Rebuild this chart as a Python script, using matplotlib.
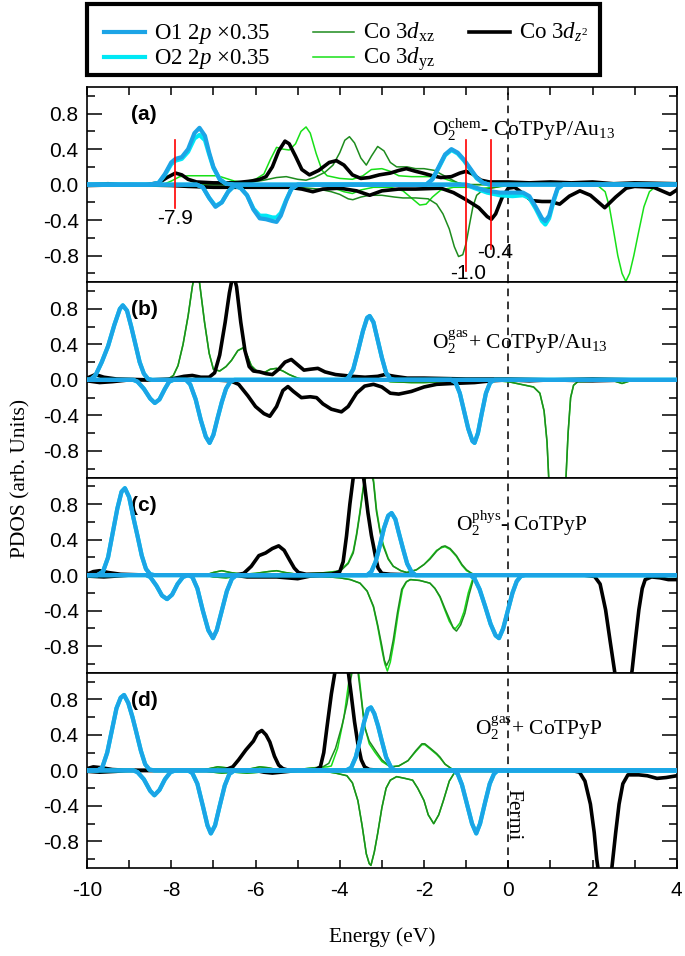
import numpy as np
import matplotlib.pyplot as plt
from matplotlib.lines import Line2D
from matplotlib.patches import Rectangle
from matplotlib.ticker import MultipleLocator, FixedLocator

plt.rcParams['font.family'] = ['Liberation Serif', 'DejaVu Serif']
plt.rcParams['mathtext.fontset'] = 'custom'
plt.rcParams['mathtext.rm'] = 'Liberation Serif'
plt.rcParams['mathtext.it'] = 'Liberation Serif:italic'
plt.rcParams['mathtext.bf'] = 'Liberation Serif:bold'

# ---- data: (energy eV, PDOS) points, spin up (+) / spin down (-)

# (a) O2chem - CoTPyP/Au13
a_o1_up = [(-10, 0), (-8.5, 0), (-8.3, 0.02), (-8.15, 0.12), (-8.0, 0.25), (-7.9, 0.29), (-7.75, 0.31),
           (-7.6, 0.40), (-7.45, 0.58), (-7.33, 0.64), (-7.2, 0.55), (-7.1, 0.36), (-7.0, 0.2), (-6.85, 0.06),
           (-6.7, 0.01), (-6.5, 0), (-1.95, 0), (-1.8, 0.06), (-1.65, 0.2), (-1.5, 0.34), (-1.35, 0.40),
           (-1.2, 0.36), (-1.05, 0.28), (-0.9, 0.18), (-0.75, 0.08), (-0.6, 0.02), (-0.45, 0), (4, 0)]
a_o1_dn = [(-10, 0), (-7.4, 0), (-7.25, -0.03), (-7.1, -0.15), (-6.95, -0.25), (-6.8, -0.2), (-6.65, -0.08),
           (-6.5, -0.01), (-6.35, -0.04), (-6.2, -0.12), (-6.05, -0.28), (-5.9, -0.38), (-5.75, -0.39),
           (-5.6, -0.41), (-5.5, -0.42), (-5.4, -0.35), (-5.27, -0.18), (-5.15, -0.05), (-5.0, 0), (-1.0, 0),
           (-0.8, -0.03), (-0.5, -0.07), (-0.2, -0.09), (0.1, -0.09), (0.35, -0.09), (0.5, -0.13), (0.65, -0.25),
           (0.8, -0.38), (0.88, -0.41), (0.97, -0.35), (1.07, -0.18), (1.17, -0.04), (1.3, 0), (4, 0)]
a_o2_up = [(-10, 0), (-8.5, 0), (-8.3, 0.02), (-8.15, 0.11), (-8.0, 0.23), (-7.9, 0.27), (-7.75, 0.29),
           (-7.6, 0.37), (-7.45, 0.52), (-7.33, 0.56), (-7.2, 0.50), (-7.1, 0.34), (-7.0, 0.19), (-6.85, 0.06),
           (-6.7, 0.01), (-6.5, 0), (-1.95, 0), (-1.8, 0.06), (-1.65, 0.19), (-1.5, 0.33), (-1.35, 0.39),
           (-1.2, 0.35), (-1.05, 0.27), (-0.9, 0.17), (-0.75, 0.07), (-0.6, 0.02), (-0.45, 0), (4, 0)]
a_o2_dn = [(-10, 0), (-7.4, 0), (-7.25, -0.03), (-7.1, -0.15), (-6.95, -0.24), (-6.8, -0.2), (-6.65, -0.08),
           (-6.5, -0.01), (-6.35, -0.04), (-6.2, -0.12), (-6.05, -0.27), (-5.9, -0.35), (-5.75, -0.35),
           (-5.6, -0.37), (-5.5, -0.37), (-5.4, -0.32), (-5.27, -0.17), (-5.15, -0.05), (-5.0, 0), (-1.0, 0),
           (-0.8, -0.04), (-0.5, -0.09), (-0.2, -0.12), (0.1, -0.13), (0.35, -0.12), (0.5, -0.15), (0.65, -0.27),
           (0.8, -0.41), (0.88, -0.45), (0.97, -0.38), (1.07, -0.2), (1.17, -0.05), (1.3, 0), (4, 0)]
a_z2_up = [(-10, 0), (-9.5, 0.01), (-9.2, 0), (-8.6, 0.0), (-8.3, 0.02), (-8.1, 0.08), (-7.9, 0.13),
           (-7.75, 0.11), (-7.6, 0.06), (-7.4, 0.03), (-7.0, 0.02), (-6.5, 0.02), (-6.1, 0.04), (-5.9, 0.06),
           (-5.75, 0.09), (-5.6, 0.2), (-5.45, 0.38), (-5.3, 0.49), (-5.2, 0.46), (-5.05, 0.32), (-4.9, 0.17),
           (-4.72, 0.11), (-4.5, 0.16), (-4.25, 0.25), (-4.08, 0.27), (-3.9, 0.22), (-3.7, 0.11), (-3.5, 0.07),
           (-3.3, 0.08), (-3.06, 0.11), (-2.8, 0.13), (-2.6, 0.16), (-2.42, 0.18), (-2.2, 0.15), (-2.03, 0.13),
           (-1.8, 0.10), (-1.6, 0.08), (-1.35, 0.09), (-1.15, 0.13), (-1.0, 0.15), (-0.85, 0.12), (-0.65, 0.05),
           (-0.45, 0.03), (0, 0.03), (0.5, 0.02), (1.0, 0.03), (1.5, 0.02), (2.0, 0.03), (2.5, 0.01), (3, 0.02),
           (4, 0.01)]
a_z2_dn = [(-10, -0.01), (-9.0, 0.0), (-8.0, -0.01), (-7.6, -0.02), (-7.0, -0.03), (-6.4, -0.03), (-5.8, -0.03),
           (-5.2, -0.03), (-4.9, -0.05), (-4.64, -0.08), (-4.4, -0.05), (-4.0, -0.04), (-3.6, -0.07),
           (-3.29, -0.12), (-3.0, -0.07), (-2.6, -0.05), (-2.2, -0.05), (-1.6, -0.04), (-1.3, -0.09),
           (-1.0, -0.17), (-0.7, -0.26), (-0.5, -0.36), (-0.4, -0.39), (-0.3, -0.33), (-0.15, -0.15),
           (0.0, -0.04), (0.15, -0.03), (0.35, -0.1), (0.55, -0.18), (0.8, -0.19), (1.0, -0.19), (1.22, -0.22),
           (1.45, -0.13), (1.7, -0.07), (1.95, -0.12), (2.29, -0.26), (2.55, -0.14), (2.8, -0.04), (3.0, -0.02),
           (3.45, -0.03), (3.84, -0.11), (4.0, -0.06)]
a_xz_up = [(-10, 0), (-6.5, 0), (-6.2, 0.02), (-5.8, 0.05), (-5.5, 0.08), (-5.27, 0.09), (-5.0, 0.06),
           (-4.8, 0.05), (-4.6, 0.08), (-4.35, 0.14), (-4.16, 0.22), (-4.0, 0.36), (-3.88, 0.5), (-3.77, 0.54),
           (-3.65, 0.47), (-3.5, 0.3), (-3.37, 0.22), (-3.25, 0.32), (-3.1, 0.43), (-2.95, 0.38), (-2.8, 0.25),
           (-2.65, 0.2), (-2.4, 0.2), (-2.2, 0.18), (-2.0, 0.18), (-1.75, 0.16), (-1.6, 0.12), (-1.4, 0.07),
           (-1.2, 0.02), (-1.0, 0), (4, 0)]
a_xz_dn = [(-10, 0), (-6.2, 0), (-5.5, -0.02), (-5.0, -0.03), (-4.5, -0.05), (-4.2, -0.08), (-4.0, -0.11),
           (-3.8, -0.16), (-3.69, -0.17), (-3.5, -0.14), (-3.3, -0.12), (-3.0, -0.12), (-2.7, -0.14),
           (-2.5, -0.15), (-2.2, -0.15), (-1.9, -0.16), (-1.7, -0.22), (-1.55, -0.33), (-1.4, -0.5),
           (-1.28, -0.7), (-1.18, -0.81), (-1.08, -0.79), (-1.0, -0.66), (-0.92, -0.45), (-0.84, -0.25),
           (-0.75, -0.12), (-0.6, -0.06), (-0.4, -0.04), (-0.2, -0.02), (0, 0), (4, 0)]
a_yz_up = [(-10, 0), (-8.2, 0), (-8.0, 0.04), (-7.8, 0.09), (-7.6, 0.1), (-7.2, 0.1), (-6.9, 0.1), (-6.7, 0.07),
           (-6.5, 0.04), (-6.3, 0.03), (-6.0, 0.06), (-5.8, 0.12), (-5.65, 0.28), (-5.5, 0.42), (-5.35, 0.4),
           (-5.2, 0.39), (-5.05, 0.46), (-4.92, 0.6), (-4.8, 0.65), (-4.7, 0.58), (-4.56, 0.35), (-4.42, 0.16),
           (-4.3, 0.1), (-4.0, 0.07), (-3.7, 0.06), (-3.45, 0.1), (-3.25, 0.17), (-3.0, 0.18), (-2.8, 0.15),
           (-2.6, 0.1), (-2.3, 0.09), (-1.9, 0.09), (-1.6, 0.08), (-1.35, 0.04), (-1.1, 0.01), (-0.9, 0), (4, 0)]
a_yz_dn = [(-10, 0), (-4.5, 0), (-4.2, -0.03), (-3.9, -0.08), (-3.7, -0.1), (-3.5, -0.06), (-3.2, -0.03),
           (-2.8, -0.03), (-2.5, -0.07), (-2.3, -0.15), (-2.1, -0.23), (-1.95, -0.22), (-1.8, -0.14),
           (-1.6, -0.06), (-1.3, -0.03), (-1.0, -0.03), (-0.6, -0.04), (-0.3, -0.03), (0, -0.01), (1.8, 0),
           (2.15, -0.02), (2.3, -0.08), (2.4, -0.25), (2.5, -0.52), (2.6, -0.8), (2.7, -1.0), (2.79, -1.09),
           (2.88, -1.0), (2.98, -0.8), (3.1, -0.52), (3.22, -0.25), (3.35, -0.08), (3.5, -0.02), (3.7, 0), (4, 0)]

# (b) O2gas + CoTPyP/Au13
b_o1_up = [(-10, 0), (-9.9, 0.01), (-9.8, 0.05), (-9.65, 0.2), (-9.5, 0.38), (-9.35, 0.62), (-9.22, 0.8),
           (-9.15, 0.84), (-9.05, 0.78), (-8.95, 0.6), (-8.85, 0.4), (-8.75, 0.2), (-8.65, 0.07), (-8.55, 0.01),
           (-8.45, 0), (-3.9, 0), (-3.8, 0.02), (-3.68, 0.12), (-3.57, 0.32), (-3.45, 0.55), (-3.35, 0.7),
           (-3.29, 0.72), (-3.2, 0.65), (-3.1, 0.45), (-3.0, 0.25), (-2.9, 0.08), (-2.8, 0.01), (-2.7, 0), (4, 0)]
b_o1_dn = [(-10, 0), (-8.9, 0), (-8.8, -0.02), (-8.65, -0.1), (-8.5, -0.21), (-8.39, -0.26), (-8.28, -0.22),
           (-8.15, -0.1), (-8.05, -0.02), (-7.95, 0), (-7.65, 0), (-7.55, -0.05), (-7.42, -0.22), (-7.3, -0.45),
           (-7.18, -0.64), (-7.09, -0.71), (-7.0, -0.62), (-6.9, -0.43), (-6.8, -0.25), (-6.7, -0.1),
           (-6.6, -0.02), (-6.5, 0), (-1.35, 0), (-1.25, -0.03), (-1.15, -0.15), (-1.05, -0.35), (-0.95, -0.55),
           (-0.85, -0.69), (-0.8, -0.71), (-0.72, -0.6), (-0.63, -0.38), (-0.53, -0.15), (-0.43, -0.03),
           (-0.33, 0), (4, 0)]
b_o2_up = b_o1_up
b_o2_dn = b_o1_dn
b_z2_up = [(-10, 0.02), (-9.8, 0.06), (-9.6, 0.03), (-9.3, 0.01), (-8.5, 0.0), (-8.0, 0.01), (-7.7, 0.04),
           (-7.5, 0.05), (-7.3, 0.03), (-7.1, 0.03), (-6.97, 0.08), (-6.85, 0.28), (-6.72, 0.65), (-6.62, 0.98),
           (-6.53, 1.2), (-6.45, 1.05), (-6.35, 0.65), (-6.25, 0.33), (-6.15, 0.15), (-6.05, 0.1), (-5.9, 0.09),
           (-5.75, 0.07), (-5.6, 0.06), (-5.45, 0.12), (-5.3, 0.2), (-5.15, 0.23), (-5.0, 0.17), (-4.85, 0.11),
           (-4.7, 0.12), (-4.52, 0.13), (-4.35, 0.09), (-4.1, 0.06), (-3.7, 0.04), (-3.4, 0.03), (-3.1, 0.04),
           (-2.93, 0.06), (-2.7, 0.04), (-2.4, 0.02), (-2.0, 0.02), (-1.0, 0.01), (0, 0.01), (1, 0.0),
           (2, 0.01), (3, 0), (4, 0)]
b_z2_dn = [(-10, -0.01), (-9.7, -0.03), (-9.4, -0.02), (-9.0, 0), (-7, 0), (-6.6, -0.01), (-6.4, -0.05),
           (-6.18, -0.18), (-6.0, -0.3), (-5.8, -0.38), (-5.66, -0.41), (-5.5, -0.3), (-5.35, -0.12),
           (-5.23, -0.075), (-5.1, -0.13), (-4.91, -0.2), (-4.7, -0.19), (-4.55, -0.2), (-4.4, -0.27),
           (-4.2, -0.33), (-3.96, -0.36), (-3.8, -0.3), (-3.6, -0.15), (-3.41, -0.07), (-3.2, -0.05),
           (-3.0, -0.08), (-2.8, -0.15), (-2.6, -0.16), (-2.3, -0.13), (-2.0, -0.08), (-1.7, -0.05),
           (-1.3, -0.04), (-0.8, -0.03), (-0.4, -0.01), (0, 0), (0.5, -0.01), (1, 0.0), (2, -0.01), (3, 0), (4, 0)]
b_xz_up = [(-10, 0), (-8.1, 0), (-7.95, 0.05), (-7.84, 0.16), (-7.72, 0.4), (-7.6, 0.72), (-7.5, 1.05),
           (-7.42, 1.25), (-7.33, 1.1), (-7.21, 0.65), (-7.1, 0.3), (-7.0, 0.12), (-6.85, 0.1), (-6.7, 0.15),
           (-6.57, 0.22), (-6.42, 0.33), (-6.3, 0.36), (-6.2, 0.28), (-6.1, 0.16), (-5.95, 0.09), (-5.8, 0.08),
           (-5.65, 0.12), (-5.5, 0.13), (-5.35, 0.1), (-5.2, 0.06), (-5.0, 0.02), (-4.8, 0), (4, 0)]
b_xz_dn = [(-10, 0), (-3.0, 0), (-2.8, -0.02), (-2.3, -0.03), (-2.0, -0.03), (-1.5, -0.02), (-1.0, -0.01),
           (-0.3, -0.01), (0.0, -0.02), (0.3, -0.05), (0.6, -0.08), (0.75, -0.15), (0.85, -0.35), (0.92, -0.7),
           (0.96, -1.1), (1.05, -1.5), (1.17, -1.65), (1.3, -1.5), (1.37, -1.1), (1.42, -0.6), (1.48, -0.2),
           (1.55, -0.06), (1.65, -0.02), (2.5, -0.01), (2.7, -0.04), (2.9, -0.01), (3.2, 0), (4, 0)]
b_yz_up = b_xz_up
b_yz_dn = b_xz_dn

# (c) O2phys - CoTPyP
c_o1_up = [(-10, 0), (-9.75, 0), (-9.62, 0.04), (-9.5, 0.2), (-9.4, 0.45), (-9.28, 0.75), (-9.18, 0.94),
           (-9.1, 0.98), (-9.0, 0.88), (-8.9, 0.65), (-8.8, 0.44), (-8.7, 0.22), (-8.6, 0.07), (-8.5, 0.01),
           (-8.4, 0), (-3.35, 0), (-3.25, 0.04), (-3.15, 0.15), (-3.05, 0.33), (-2.95, 0.53), (-2.85, 0.67),
           (-2.77, 0.70), (-2.68, 0.63), (-2.6, 0.48), (-2.5, 0.3), (-2.4, 0.13), (-2.3, 0.04), (-2.2, 0), (4, 0)]
c_o1_dn = [(-10, 0), (-8.6, 0), (-8.5, -0.02), (-8.35, -0.12), (-8.22, -0.23), (-8.1, -0.27), (-7.98, -0.22),
           (-7.85, -0.1), (-7.72, -0.02), (-7.6, 0), (-7.5, -0.02), (-7.38, -0.15), (-7.25, -0.4),
           (-7.12, -0.62), (-7.01, -0.71), (-6.92, -0.62), (-6.8, -0.4), (-6.68, -0.18), (-6.56, -0.04),
           (-6.45, 0), (-0.9, 0), (-0.8, -0.04), (-0.68, -0.16), (-0.55, -0.35), (-0.42, -0.55), (-0.3, -0.68),
           (-0.22, -0.71), (-0.12, -0.6), (0.0, -0.38), (0.1, -0.2), (0.2, -0.07), (0.3, -0.01), (0.4, 0), (4, 0)]
c_o2_up = c_o1_up
c_o2_dn = c_o1_dn
c_z2_up = [(-10, 0.01), (-9.85, 0.04), (-9.7, 0.05), (-9.5, 0.03), (-9.2, 0.01), (-8.5, 0), (-6.5, 0),
           (-6.28, 0.02), (-6.1, 0.1), (-5.92, 0.22), (-5.76, 0.25), (-5.6, 0.3), (-5.45, 0.33), (-5.32, 0.28),
           (-5.19, 0.17), (-5.08, 0.08), (-4.98, 0.03), (-4.8, 0.01), (-4.2, 0.01), (-4.0, 0.04), (-3.92, 0.15),
           (-3.84, 0.44), (-3.76, 0.8), (-3.68, 1.1), (-3.58, 1.35), (-3.5, 1.3), (-3.42, 1.05), (-3.33, 0.7),
           (-3.25, 0.45), (-3.2, 0.33), (-3.14, 0.18), (-3.09, 0.08), (-3.0, 0.02), (-2.8, 0.01), (-2, 0.0), (4, 0)]
c_z2_dn = [(-10, -0.01), (-9.6, -0.02), (-9.0, 0), (-6.5, 0), (-6.2, -0.02), (-5.5, -0.02), (-5.0, -0.04),
           (-4.7, -0.01), (-4.0, 0), (1.8, 0), (2.05, -0.015), (2.18, -0.1), (2.31, -0.39), (2.42, -0.75),
           (2.52, -1.07), (2.62, -1.4), (2.73, -1.5), (2.85, -1.35), (2.94, -1.07), (3.02, -0.72), (3.1, -0.39),
           (3.18, -0.15), (3.25, -0.05), (3.4, -0.02), (3.6, -0.03), (3.8, -0.05), (4.0, -0.05)]
c_xz_up = [(-10, 0), (-7.2, 0), (-7.0, 0.03), (-6.8, 0.05), (-6.6, 0.03), (-6.3, 0.01), (-6.0, 0.02),
           (-5.7, 0.04), (-5.5, 0.05), (-5.3, 0.03), (-5.0, 0.01), (-4.6, 0.02), (-4.3, 0.03), (-4.0, 0.04),
           (-3.8, 0.13), (-3.68, 0.25), (-3.6, 0.45), (-3.52, 0.7), (-3.44, 0.98), (-3.36, 1.15), (-3.28, 1.2),
           (-3.2, 1.05), (-3.13, 0.72), (-3.05, 0.5), (-2.97, 0.33), (-2.85, 0.18), (-2.73, 0.1), (-2.55, 0.05),
           (-2.41, 0.03), (-2.18, 0.06), (-2.0, 0.12), (-1.86, 0.18), (-1.7, 0.27), (-1.58, 0.32), (-1.5, 0.33),
           (-1.38, 0.3), (-1.23, 0.22), (-1.1, 0.12), (-0.99, 0.06), (-0.87, 0.02), (-0.75, 0), (4, 0)]
c_xz_dn = [(-10, 0), (-7.2, 0), (-7.0, -0.02), (-6.7, -0.03), (-6.4, -0.01), (-6.0, -0.01), (-5.5, -0.02),
           (-5.0, -0.01), (-4.5, -0.01), (-4.0, -0.03), (-3.75, -0.05), (-3.52, -0.09), (-3.35, -0.18),
           (-3.2, -0.35), (-3.1, -0.56), (-3.0, -0.8), (-2.94, -0.96), (-2.89, -1.02), (-2.82, -0.95),
           (-2.73, -0.73), (-2.63, -0.42), (-2.53, -0.16), (-2.43, -0.08), (-2.33, -0.05), (-2.1, -0.06),
           (-1.86, -0.09), (-1.74, -0.15), (-1.62, -0.24), (-1.5, -0.38), (-1.39, -0.5), (-1.3, -0.6),
           (-1.23, -0.63), (-1.13, -0.56), (-1.03, -0.43), (-0.93, -0.22), (-0.83, -0.05), (-0.72, 0), (4, 0)]
c_yz_up = [(-10, 0), (-7.2, 0), (-7.0, 0.03), (-6.8, 0.05), (-6.6, 0.03), (-6.3, 0.01), (-6.0, 0.02),
           (-5.7, 0.04), (-5.5, 0.05), (-5.3, 0.03), (-5.0, 0.01), (-4.6, 0.02), (-4.3, 0.03), (-4.0, 0.05),
           (-3.8, 0.14), (-3.68, 0.27), (-3.6, 0.47), (-3.52, 0.72), (-3.44, 1.0), (-3.36, 1.18), (-3.28, 1.22),
           (-3.2, 1.08), (-3.13, 0.75), (-3.05, 0.52), (-2.97, 0.35), (-2.85, 0.19), (-2.73, 0.1), (-2.55, 0.05),
           (-2.41, 0.03), (-2.18, 0.06), (-2.0, 0.12), (-1.86, 0.19), (-1.7, 0.28), (-1.58, 0.31), (-1.5, 0.32),
           (-1.38, 0.29), (-1.23, 0.21), (-1.1, 0.11), (-0.99, 0.05), (-0.87, 0.02), (-0.75, 0), (4, 0)]
c_yz_dn = [(-10, 0), (-7.2, 0), (-7.0, -0.02), (-6.7, -0.03), (-6.4, -0.01), (-6.0, -0.01), (-5.5, -0.02),
           (-5.0, -0.01), (-4.5, -0.01), (-4.0, -0.03), (-3.75, -0.05), (-3.52, -0.09), (-3.35, -0.18),
           (-3.2, -0.36), (-3.1, -0.58), (-3.0, -0.84), (-2.93, -1.0), (-2.87, -1.08), (-2.8, -0.98),
           (-2.71, -0.74), (-2.61, -0.42), (-2.51, -0.16), (-2.41, -0.07), (-2.31, -0.05), (-2.1, -0.06),
           (-1.86, -0.09), (-1.74, -0.15), (-1.62, -0.25), (-1.5, -0.4), (-1.4, -0.52), (-1.31, -0.59),
           (-1.25, -0.6), (-1.15, -0.54), (-1.05, -0.41), (-0.95, -0.2), (-0.85, -0.05), (-0.74, 0), (4, 0)]

# (d) O2gas + CoTPyP
d_o1_up = [(-10, 0), (-9.75, 0), (-9.64, 0.03), (-9.52, 0.2), (-9.41, 0.45), (-9.3, 0.7), (-9.2, 0.82),
           (-9.12, 0.85), (-9.02, 0.76), (-8.92, 0.6), (-8.84, 0.45), (-8.72, 0.22), (-8.62, 0.07),
           (-8.52, 0.01), (-8.4, 0), (-3.85, 0), (-3.73, 0.03), (-3.62, 0.15), (-3.52, 0.34), (-3.42, 0.55),
           (-3.33, 0.69), (-3.26, 0.71), (-3.18, 0.64), (-3.09, 0.5), (-3.0, 0.33), (-2.9, 0.15), (-2.79, 0.04),
           (-2.7, 0), (4, 0)]
d_o1_dn = [(-10, 0), (-8.9, 0), (-8.8, -0.02), (-8.65, -0.1), (-8.5, -0.23), (-8.4, -0.28), (-8.28, -0.22),
           (-8.15, -0.1), (-8.02, -0.02), (-7.9, 0), (-7.6, 0), (-7.5, -0.03), (-7.38, -0.15), (-7.25, -0.4),
           (-7.14, -0.62), (-7.06, -0.71), (-6.96, -0.62), (-6.85, -0.4), (-6.73, -0.17), (-6.62, -0.04),
           (-6.5, 0), (-1.3, 0), (-1.2, -0.04), (-1.1, -0.16), (-0.98, -0.38), (-0.86, -0.6), (-0.76, -0.71),
           (-0.67, -0.6), (-0.55, -0.36), (-0.44, -0.15), (-0.34, -0.04), (-0.25, 0), (4, 0)]
d_o2_up = d_o1_up
d_o2_dn = d_o1_dn
d_z2_up = [(-10, 0.02), (-9.85, 0.04), (-9.65, 0.03), (-9.4, 0.01), (-9.0, 0), (-7, 0), (-6.7, 0.01),
           (-6.54, 0.04), (-6.4, 0.12), (-6.23, 0.23), (-6.05, 0.33), (-5.95, 0.42), (-5.85, 0.45), (-5.75, 0.4),
           (-5.66, 0.32), (-5.55, 0.16), (-5.45, 0.06), (-5.35, 0.02), (-5.2, 0), (-4.6, 0), (-4.46, 0.04),
           (-4.38, 0.2), (-4.3, 0.5), (-4.2, 0.86), (-4.1, 1.15), (-3.95, 1.3), (-3.8, 1.12), (-3.73, 0.86),
           (-3.65, 0.55), (-3.57, 0.3), (-3.49, 0.12), (-3.41, 0.04), (-3.3, 0.01), (-3, 0), (4, 0)]
d_z2_dn = [(-10, -0.01), (-9.7, -0.02), (-9.3, -0.01), (-9, 0), (-6, 0), (-5.8, -0.02), (-5.6, -0.03),
           (-5.4, -0.02), (-5.0, 0), (1.5, 0), (1.69, -0.02), (1.82, -0.12), (1.95, -0.38), (2.04, -0.7),
           (2.1, -1.0), (2.2, -1.35), (2.3, -1.5), (2.4, -1.35), (2.47, -1.05), (2.55, -0.7), (2.63, -0.38),
           (2.72, -0.15), (2.84, -0.05), (3.1, -0.05), (3.3, -0.06), (3.53, -0.09), (3.75, -0.08), (4.0, -0.06)]
d_xz_up = [(-10, 0), (-7.3, 0), (-7.1, 0.02), (-6.9, 0.04), (-6.7, 0.03), (-6.4, 0.0), (-6.1, 0.02),
           (-5.9, 0.04), (-5.7, 0.03), (-5.4, 0.0), (-5.0, 0.01), (-4.6, 0.03), (-4.4, 0.04), (-4.26, 0.08),
           (-4.1, 0.25), (-3.95, 0.5), (-3.83, 0.75), (-3.75, 1.0), (-3.67, 1.2), (-3.58, 1.15), (-3.5, 0.85),
           (-3.41, 0.49), (-3.3, 0.33), (-3.16, 0.23), (-3.0, 0.12), (-2.8, 0.04), (-2.6, 0.05), (-2.38, 0.11),
           (-2.2, 0.22), (-2.05, 0.3), (-1.98, 0.3), (-1.85, 0.25), (-1.7, 0.19), (-1.62, 0.15), (-1.5, 0.07),
           (-1.35, 0.02), (-1.2, 0), (4, 0)]
d_xz_dn = [(-10, 0), (-7.3, 0), (-7.0, -0.02), (-6.8, -0.03), (-6.5, -0.02), (-6.2, -0.03), (-5.9, -0.02),
           (-5.5, -0.01), (-4.5, 0), (-4.1, -0.03), (-3.83, -0.06), (-3.7, -0.14), (-3.57, -0.34),
           (-3.47, -0.62), (-3.37, -0.94), (-3.3, -1.05), (-3.26, -1.07), (-3.18, -0.92), (-3.1, -0.71),
           (-3.0, -0.42), (-2.9, -0.2), (-2.8, -0.11), (-2.65, -0.07), (-2.45, -0.09), (-2.27, -0.11),
           (-2.15, -0.2), (-2.0, -0.34), (-1.9, -0.5), (-1.77, -0.6), (-1.65, -0.5), (-1.54, -0.34),
           (-1.4, -0.12), (-1.27, -0.02), (-1.15, 0), (4, 0)]
d_yz_up = [(-10, 0), (-7.3, 0), (-7.1, 0.02), (-6.9, 0.04), (-6.7, 0.03), (-6.4, 0.0), (-6.1, 0.02),
           (-5.9, 0.04), (-5.7, 0.03), (-5.4, 0.0), (-5.0, 0.01), (-4.6, 0.03), (-4.3, 0.04), (-4.2, 0.05),
           (-4.05, 0.25), (-3.9, 0.6), (-3.8, 0.95), (-3.72, 1.2), (-3.62, 1.3), (-3.55, 1.1), (-3.48, 0.8),
           (-3.41, 0.5), (-3.3, 0.3), (-3.16, 0.2), (-3.0, 0.1), (-2.8, 0.04), (-2.6, 0.05), (-2.38, 0.11),
           (-2.2, 0.21), (-2.05, 0.29), (-1.98, 0.29), (-1.85, 0.24), (-1.7, 0.18), (-1.62, 0.14), (-1.5, 0.07),
           (-1.35, 0.02), (-1.2, 0), (4, 0)]
d_yz_dn = d_xz_dn

panel_tags = ['(a)', '(b)', '(c)', '(d)']
panel_titles = [r'O$_2^{\mathrm{chem}}$- CoTPyP/Au$_{13}$',
                r'O$_2^{\mathrm{gas}}$+ CoTPyP/Au$_{13}$',
                r'O$_2^{\mathrm{phys}}$- CoTPyP',
                r'O$_2^{\mathrm{gas}}$+ CoTPyP']
title_pos = [(-1.82, 0.62), (-1.82, 0.42), (-1.25, 0.58), (-0.8, 0.48)]

marked_levels = [-7.9, -1.0, -0.4]
marked_labels = ['-7.9', '-1.0', '-0.4']

panels = [
    dict(o1=(a_o1_up, a_o1_dn), o2=(a_o2_up, a_o2_dn), z2=(a_z2_up, a_z2_dn), xz=(a_xz_up, a_xz_dn), yz=(a_yz_up, a_yz_dn)),
    dict(o1=(b_o1_up, b_o1_dn), o2=(b_o2_up, b_o2_dn), z2=(b_z2_up, b_z2_dn), xz=(b_xz_up, b_xz_dn), yz=(b_yz_up, b_yz_dn)),
    dict(o1=(c_o1_up, c_o1_dn), o2=(c_o2_up, c_o2_dn), z2=(c_z2_up, c_z2_dn), xz=(c_xz_up, c_xz_dn), yz=(c_yz_up, c_yz_dn)),
    dict(o1=(d_o1_up, d_o1_dn), o2=(d_o2_up, d_o2_dn), z2=(d_z2_up, d_z2_dn), xz=(d_xz_up, d_xz_dn), yz=(d_yz_up, d_yz_dn)),
]

styles = {
    'yz': dict(color='#18e018', lw=1.1, zorder=2),
    'xz': dict(color='#1e8c1e', lw=1.1, zorder=2.1),
    'z2': dict(color='black', lw=2.6, zorder=3),
    'o2': dict(color='#00e8f5', lw=3.0, zorder=4),
    'o1': dict(color='#1ca4e6', lw=3.0, zorder=5),
}
labels = {
    'o1': r'O1 2$p$ $\times$0.35',
    'o2': r'O2 2$p$ $\times$0.35',
    'xz': r'Co 3$d_{\mathrm{xz}}$',
    'yz': r'Co 3$d_{\mathrm{yz}}$',
    'z2': r'Co 3$d_{z^2}$',
}

W, H = 685, 956
fig = plt.figure(figsize=(W / 100, H / 100), dpi=100)
axes = fig.subplots(4, 1, sharex=True, gridspec_kw=dict(hspace=0))
fig.subplots_adjust(left=0.127, right=0.988, top=0.909, bottom=0.092)

tick_font = dict(family='Liberation Sans', size=15)

for i, (ax, p) in enumerate(zip(axes, panels)):
    for key in ['yz', 'xz', 'z2', 'o2', 'o1']:
        for pts in p[key]:
            arr = np.array(pts)
            ax.plot(arr[:, 0], arr[:, 1], solid_joinstyle='round', **styles[key])
    ax.axvline(0, color='black', lw=1.1, ls=(0, (5, 3.5)), zorder=1)
    ax.set_xlim(-10, 4)
    ax.set_ylim(-1.1, 1.1)
    ax.yaxis.set_major_locator(FixedLocator([-0.8, -0.4, 0.0, 0.4, 0.8]))
    ax.yaxis.set_minor_locator(FixedLocator([-1.0, -0.6, -0.2, 0.2, 0.6, 1.0]))
    ax.xaxis.set_major_locator(MultipleLocator(2))
    ax.xaxis.set_minor_locator(MultipleLocator(1))
    ax.set_yticklabels(['-0.8', '-0.4', '0.0', '0.4', '0.8'], **tick_font)
    ax.tick_params(axis='y', which='major', direction='in', length=11, width=1.1, left=True, right=True, pad=6)
    ax.tick_params(axis='y', which='minor', direction='in', length=5.5, width=1.1, left=True, right=True)
    ax.tick_params(axis='x', which='both', direction='in', length=6, width=1.1,
                   top=(i == 0), bottom=(i == 3))
    for s in ax.spines.values():
        s.set_linewidth(1.2)
    ax.text(-8.95, 0.79, panel_tags[i], fontfamily='Liberation Sans', fontweight='bold', fontsize=15,
            ha='left', va='center')
    ax.text(title_pos[i][0], title_pos[i][1], panel_titles[i], fontsize=15.5, ha='left', va='center')

axes[3].set_xticks([-10, -8, -6, -4, -2, 0, 2, 4])
axes[3].set_xticklabels(['-10', '-8', '-6', '-4', '-2', '0', '2', '4'], **tick_font)
axes[3].tick_params(axis='x', pad=9)

# red markers in (a)
ax = axes[0]
ax.plot([marked_levels[0]] * 2, [0.5, -0.26], color='red', lw=1.2, zorder=6)
ax.plot([marked_levels[1]] * 2, [0.5, -0.97], color='red', lw=1.2, zorder=6)
ax.plot([marked_levels[2]] * 2, [0.5, -0.73], color='red', lw=1.2, zorder=6)
ax.text(marked_levels[0], -0.38, marked_labels[0], ha='center', va='center', **tick_font)
ax.text(marked_levels[1] + 0.05, -1.0, marked_labels[1], ha='center', va='center', **tick_font)
ax.text(marked_levels[2] + 0.08, -0.76, marked_labels[2], ha='center', va='center', **tick_font)

axes[3].text(0.12, -0.5, 'Fermi', rotation=-90, fontsize=15.5, ha='center', va='center')

axes[3].set_xlabel('Energy (eV)', fontsize=15.5, labelpad=20)
fig.text(0.03, 0.5, 'PDOS (arb. Units)', rotation=90, fontsize=15.5, ha='center', va='center')

# legend box drawn by hand (three columns, two rows)
fig.patches.append(Rectangle((87 / W, 1 - 75 / H), 513 / W, 71 / H, transform=fig.transFigure,
                             fill=False, edgecolor='black', lw=3))
leg_cols = [104, 313, 469]
leg_rows = [32, 57]
leg_layout = [('o1', 0, 0), ('o2', 0, 1), ('xz', 1, 0), ('yz', 1, 1), ('z2', 2, 0)]
for key, c, r in leg_layout:
    x0, y0 = leg_cols[c], leg_rows[r]
    fig.add_artist(Line2D([x0 / W, (x0 + 41) / W], [1 - y0 / H] * 2, transform=fig.transFigure,
                          color=styles[key]['color'], lw=styles[key]['lw']))
    fig.text((x0 + 50) / W, 1 - (y0 + 7) / H, labels[key], fontsize=16.5, ha='left', va='baseline')

fig.savefig('out.png', dpi=100)
